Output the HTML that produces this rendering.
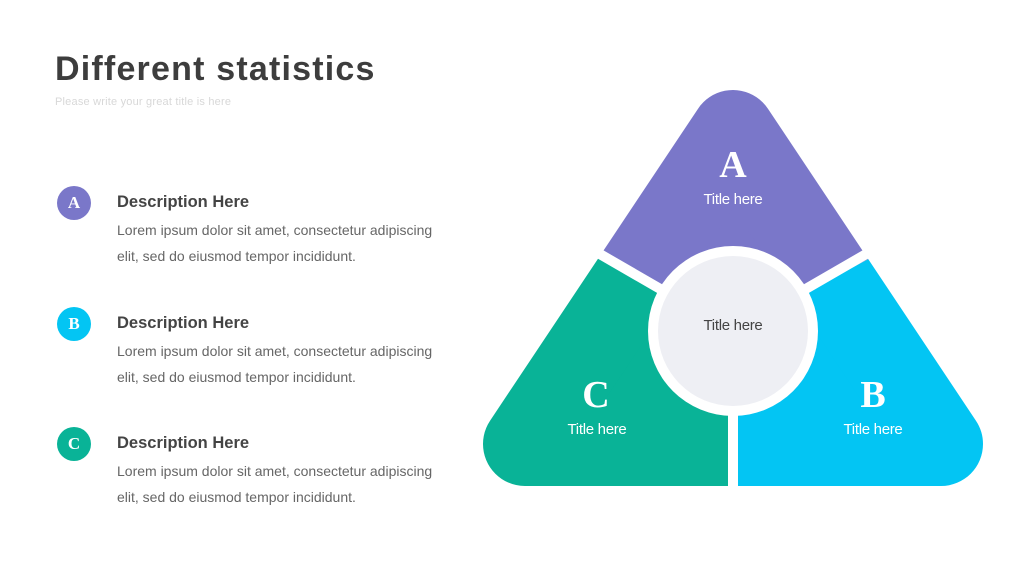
<!DOCTYPE html>
<html><head><meta charset="utf-8"><style>
html,body{margin:0;padding:0;background:#fff;}
body{width:1024px;height:576px;position:relative;overflow:hidden;font-family:"Liberation Sans",sans-serif;}
.t{position:absolute;left:55px;top:50px;font-size:34px;font-weight:bold;color:#3d3d3d;letter-spacing:1.2px;}
.s{position:absolute;left:55px;top:96px;font-size:11px;color:#d8d8d8;letter-spacing:0.2px;}
.c{position:absolute;left:57px;width:34px;height:34px;border-radius:50%;color:#fff;font-family:"Liberation Serif",serif;font-weight:bold;font-size:17px;line-height:34px;text-align:center;}
.h{position:absolute;left:117px;font-size:16.5px;font-weight:bold;color:#444;}
.p{position:absolute;left:117px;font-size:14px;color:#666;line-height:26px;width:340px;}
</style></head><body>
<div class="t">Different statistics</div>
<div class="s">Please write your great title is here</div>

<div class="c" style="top:186px;background:#7a77c9">A</div>
<div class="h" style="top:193px">Description Here</div>
<div class="p" style="top:217px">Lorem ipsum dolor sit amet, consectetur adipiscing elit, sed do eiusmod tempor incididunt.</div>

<div class="c" style="top:307px;background:#03c5f3">B</div>
<div class="h" style="top:314px">Description Here</div>
<div class="p" style="top:338px">Lorem ipsum dolor sit amet, consectetur adipiscing elit, sed do eiusmod tempor incididunt.</div>

<div class="c" style="top:427px;background:#09b397">C</div>
<div class="h" style="top:434px">Description Here</div>
<div class="p" style="top:458px">Lorem ipsum dolor sit amet, consectetur adipiscing elit, sed do eiusmod tempor incididunt.</div>

<svg width="1024" height="576" style="position:absolute;left:0;top:0">
<defs>
<polygon id="tri" points="733,132 525,444 941,444" stroke-width="84" stroke-linejoin="round"/>
<clipPath id="ca"><polygon points="733,330 400,138 400,0 1100,0 1100,138"/></clipPath>
<clipPath id="cc"><polygon points="733,330 400,138 400,600 733,600"/></clipPath>
<clipPath id="cb"><polygon points="733,330 1100,138 1100,600 733,600"/></clipPath>
</defs>
<use href="#tri" fill="#7a77c9" stroke="#7a77c9" clip-path="url(#ca)"/>
<use href="#tri" fill="#09b397" stroke="#09b397" clip-path="url(#cc)"/>
<use href="#tri" fill="#03c5f3" stroke="#03c5f3" clip-path="url(#cb)"/>
<g stroke="#fff" stroke-width="10">
<line x1="733" y1="331" x2="733" y2="500"/>
<line x1="733" y1="331" x2="560" y2="231"/>
<line x1="733" y1="331" x2="906" y2="231"/>
</g>
<circle cx="733" cy="331" r="85" fill="#fff"/>
<circle cx="733" cy="331" r="75" fill="#eeeff4"/>
<g font-family="Liberation Serif,serif" font-weight="bold" font-size="38" fill="#fff" text-anchor="middle">
<text x="733" y="177">A</text>
<text x="596" y="407">C</text>
<text x="873" y="407">B</text>
</g>
<g font-family="Liberation Sans,sans-serif" font-size="15" fill="#fff" text-anchor="middle" letter-spacing="-0.3">
<text x="733" y="204">Title here</text>
<text x="597" y="434">Title here</text>
<text x="873" y="434">Title here</text>
<text x="733" y="330" fill="#444">Title here</text>
</g>
</svg>
</body></html>
